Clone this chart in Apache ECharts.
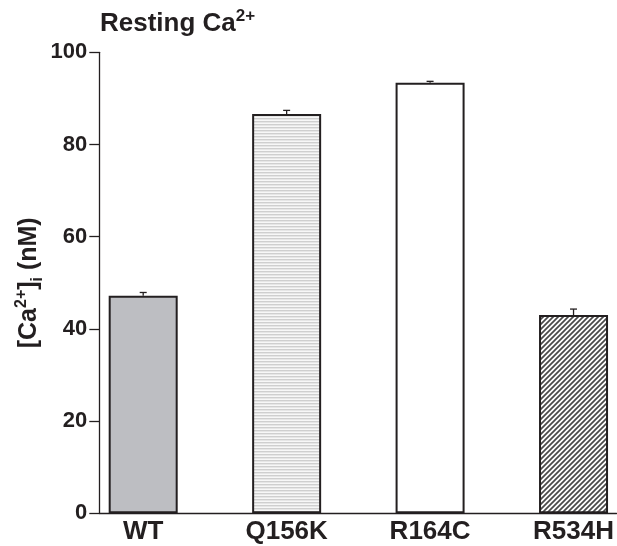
<!DOCTYPE html>
<html>
<head>
<meta charset="utf-8">
<script src="https://cdn.jsdelivr.net/npm/echarts@6/dist/echarts.min.js"></script>
<style>html,body{margin:0;padding:0;background:#fff}#c{width:617px;height:546px}</style>
</head>
<body>
<div id="c"></div>
<script>
// ---- data ----
var categories = ['WT', 'Q156K', 'R164C', 'R534H'];
var means = [47.2, 86.6, 93.4, 43.0];
var errors = [0.7, 0.8, 0.3, 1.3];
var yTicks = [0, 20, 40, 60, 80, 100];

// ---- patterns ----
function stripePattern() {
  var c = document.createElement('canvas');
  c.width = 4; c.height = 3;
  var g = c.getContext('2d');
  g.fillStyle = '#f7f7f7'; g.fillRect(0, 0, 4, 3);
  g.fillStyle = '#cfcfcf'; g.fillRect(0, 1, 4, 1);
  g.fillStyle = '#e6e6e6'; g.fillRect(0, 2, 4, 1);
  return c;
}
function hatchPattern() {
  var s = 5;
  var c = document.createElement('canvas');
  c.width = s; c.height = s;
  var g = c.getContext('2d');
  g.fillStyle = '#ffffff'; g.fillRect(0, 0, s, s);
  g.strokeStyle = '#4a4a4a'; g.lineWidth = 1.7;
  g.beginPath();
  g.moveTo(-1, s + 1); g.lineTo(s + 1, -1);
  g.moveTo(-1, 1); g.lineTo(1, -1);
  g.moveTo(s - 1, s + 1); g.lineTo(s + 1, s - 1);
  g.stroke();
  return c;
}
var fills = ['#bdbec2', { image: stripePattern(), repeat: 'repeat' }, '#ffffff', { image: hatchPattern(), repeat: 'repeat' }];

var ink = '#231f20';
var chart = echarts.init(document.getElementById('c'), null, { renderer: 'canvas' });

var barData = means.map(function (v, i) {
  return { value: [i, v], itemStyle: { color: fills[i] } };
});
var errData = means.map(function (v, i) { return [i, v, errors[i]]; });

chart.setOption({
  animation: false,
  backgroundColor: '#ffffff',
  title: {
    text: '{a|Resting Ca}{s|2+}',
    left: 95, top: 3,
    textStyle: {
      rich: {
        a: { fontFamily: 'Liberation Sans', fontWeight: 'bold', fontSize: 26, color: ink, lineHeight: 31 },
        s: { fontFamily: 'Liberation Sans', fontWeight: 'bold', fontSize: 17, color: ink, verticalAlign: 'top', lineHeight: 23 }
      }
    }
  },
  grid: { left: 99.3, right: 0, top: 52.3, bottom: 32.7, containLabel: false },
  xAxis: {
    type: 'value',
    min: -0.306, max: 3.30,
    axisLine: { show: true, onZero: false, lineStyle: { color: ink, width: 1.3 } },
    axisTick: { show: false },
    splitLine: { show: false },
    axisLabel: {
      customValues: [0, 1, 2, 3],
      formatter: function (v) { return categories[Math.round(v)]; },
      fontFamily: 'Liberation Sans', fontWeight: 'bold', fontSize: 26, color: ink, margin: 6
    }
  },
  yAxis: {
    type: 'value',
    min: 0, max: 100, interval: 20,
    axisLine: { show: true, onZero: false, lineStyle: { color: ink, width: 1.3 } },
    axisTick: { show: true, inside: false, length: 10, lineStyle: { color: ink, width: 1.3 } },
    splitLine: { show: false },
    axisLabel: {
      customValues: yTicks,
      fontFamily: 'Liberation Sans', fontWeight: 'bold', fontSize: 22, color: ink, margin: 12
    },
    name: '{a|[Ca}{s|2+}{a|]}{b|i}{a| (nM)}',
    nameLocation: 'middle', nameRotate: 90, nameGap: 54,
    nameMoveOverlap: false,
    nameTextStyle: {
      rich: {
        a: { fontFamily: 'Liberation Sans', fontWeight: 'bold', fontSize: 25, color: ink, lineHeight: 32 },
        s: { fontFamily: 'Liberation Sans', fontWeight: 'bold', fontSize: 16, color: ink, verticalAlign: 'top', lineHeight: 22 },
        b: { fontFamily: 'Liberation Sans', fontWeight: 'bold', fontSize: 16, color: ink, verticalAlign: 'bottom', lineHeight: 22 }
      }
    }
  },
  series: [
    {
      type: 'bar',
      data: barData,
      barWidth: 69,
      itemStyle: { borderColor: ink, borderWidth: 2 },
      z: 2
    },
    {
      type: 'custom',
      data: errData,
      z: 3,
      renderItem: function (params, api) {
        var x = api.value(0), y = api.value(1), e = api.value(2);
        var base = api.coord([x, y]);
        var top = api.coord([x, y + e]);
        var style = { stroke: ink, lineWidth: 1.3 };
        return {
          type: 'group',
          children: [
            { type: 'line', shape: { x1: base[0], y1: base[1], x2: top[0], y2: top[1] }, style: style },
            { type: 'line', shape: { x1: top[0] - 3.5, y1: top[1], x2: top[0] + 3.5, y2: top[1] }, style: style }
          ]
        };
      }
    }
  ]
});
</script>
</body>
</html>
